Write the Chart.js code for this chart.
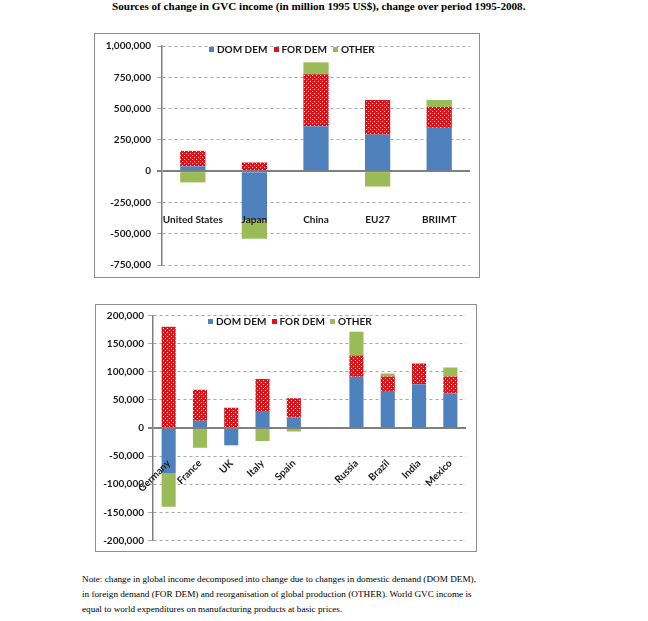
<!DOCTYPE html>
<html>
<head>
<meta charset="utf-8">
<script src="https://cdn.jsdelivr.net/npm/chart.js@4.4.1/dist/chart.umd.min.js"></script>
<style>
  body { margin: 0; background: #fff; }
  #page { position: relative; width: 648px; height: 621px; overflow: hidden; }
  .title { position: absolute; left: 112px; top: 0px; font: bold 11.1px "Liberation Serif"; color: #000; white-space: nowrap; }
  .box { position: absolute; border: 1px solid #8e8e8e; background: #fff; }
  .box canvas { position: absolute; left: 0; top: 0; }
  .lg { position: absolute; display: flex; align-items: center; font: bold 10px Lato; color: #1a1a1a; white-space: nowrap; }
  .lg i { display: inline-block; width: 5px; height: 5px; margin-right: 3px; }
  .note { position: absolute; left: 82px; top: 572px; font: 9.2px "Liberation Serif"; line-height: 15px; color: #000; white-space: nowrap; }
</style>
</head>
<body>
<div id="page">
  <div class="title">Sources of change in GVC income (in million 1995 US$), change over period 1995-2008.</div>

  <div class="box" id="topBox" style="left:94px; top:33px; width:384px; height:243px;">
    <canvas id="topChart"></canvas>
  </div>
  <div class="box" id="bottomBox" style="left:95px; top:304px; width:380px; height:246px;">
    <canvas id="bottomChart"></canvas>
  </div>

  <div class="note">Note: change in global income decomposed into change due to changes in domestic demand (DOM DEM),<br>in foreign demand (FOR DEM) and reorganisation of global production (OTHER). World GVC income is<br>equal to world expenditures on manufacturing products at basic prices.</div>
</div>

<script>
// values in million 1995 US$
const seriesNames = ['DOM DEM', 'FOR DEM', 'OTHER'];

const topCategories = ['United States', 'Japan', 'China', 'EU27', 'BRIIMT'];
const topDomDem = [39000, -391000, 359000, 292000, 346000];
const topForDem = [123000, 69000, 415000, 277000, 167000];
const topOther  = [-90000, -149000, 95000, -123000, 56000];
const topTicks = { min: -750000, max: 1000000, step: 250000 };

const bottomCategories = ['Germany', 'France', 'UK', 'Italy', 'Spain', '', 'Russia', 'Brazil', 'India', 'Mexico'];
const bottomDomDem = [-80000, 13000, -30000, 29000, 19000, null, 91000, 66000, 78000, 62000];
const bottomForDem = [180000, 55000, 36000, 58000, 34000, null, 38000, 25500, 36500, 29500];
const bottomOther  = [-60000, -35000, -1000, -23000, -6000, null, 42000, 5500, 0, 16000];
const bottomTicks = { min: -200000, max: 200000, step: 50000 };

const colors = { dom: '#4f81bd', forRed: '#d9141a', other: '#9bbb59' };

// red fill with white dots, like the Excel pattern
function dotPattern() {
  const c = document.createElement('canvas');
  c.width = 4; c.height = 4;
  const g = c.getContext('2d');
  g.fillStyle = colors.forRed;
  g.fillRect(0, 0, 4, 4);
  g.fillStyle = '#ffffff';
  g.fillRect(1, 1, 1, 1);
  g.fillRect(3, 3, 1, 1);
  return g.createPattern(c, 'repeat');
}

function addLegend(items, top) {
  const page = document.getElementById('page');
  const swatch = [colors.dom, colors.forRed, colors.other];
  items.forEach((left, i) => {
    const d = document.createElement('div');
    d.className = 'lg';
    d.style.left = left + 'px';
    d.style.top = top + 'px';
    d.innerHTML = `<i style="background:${swatch[i]}"></i>${seriesNames[i]}`;
    page.appendChild(d);
  });
}

function makeChart(canvasId, labels, dom, fore, other, ticks, opt) {
  const ctx = document.getElementById(canvasId).getContext('2d');
  const pattern = dotPattern();
  return new Chart(ctx, {
    type: 'bar',
    data: {
      labels: labels,
      datasets: [
        { label: seriesNames[0], data: dom, backgroundColor: colors.dom },
        { label: seriesNames[1], data: fore, backgroundColor: pattern },
        { label: seriesNames[2], data: other, backgroundColor: colors.other }
      ]
    },
    options: {
      responsive: true,
      maintainAspectRatio: false,
      animation: false,
      layout: { padding: opt.padding },
      datasets: { bar: { categoryPercentage: 1, barPercentage: opt.barPct } },
      plugins: { legend: { display: false }, tooltip: { enabled: false } },
      scales: {
        x: {
          stacked: true,
          position: { y: opt.labelAt },
          grid: { display: false, drawTicks: false },
          border: { display: false },
          ticks: {
            z: 1,   // labels sit on top of the bars (Japan, Germany)
            autoSkip: false,
            minRotation: opt.rotation,
            maxRotation: opt.rotation,
            padding: opt.labelPad,
            color: '#1a1a1a',
            font: { family: 'Lato', weight: 'bold', size: 10 }
          }
        },
        y: {
          stacked: true,
          min: ticks.min,
          max: ticks.max,
          afterFit: (s) => { s.width = opt.axisWidth; },
          grid: {
            color: (c) => (c.tick && c.tick.value === 0) ? '#7f7f7f' : '#a6a6a6',
            lineWidth: (c) => (c.tick && c.tick.value === 0) ? 2 : 1,
            tickLength: 5
          },
          border: {
            display: true,
            color: '#7f7f7f',
            width: 1.5,
            dash: (c) => (c.tick && c.tick.value !== 0) ? [3, 3] : []
          },
          ticks: {
            stepSize: ticks.step,
            padding: opt.tickPad,
            color: '#1a1a1a',
            font: { family: 'Lato', weight: 'bold', size: 10 },
            callback: (v) => v.toLocaleString('en-US')
          }
        }
      }
    }
  });
}

makeChart('topChart', topCategories, topDomDem, topForDem, topOther, topTicks, {
  padding: { top: 10, right: 9, bottom: 6, left: 0 },
  axisWidth: 67, tickPad: 6, barPct: 0.41,
  labelAt: -300000, labelPad: 5, rotation: 0
});

makeChart('bottomChart', bottomCategories, bottomDomDem, bottomForDem, bottomOther, bottomTicks, {
  padding: { top: 10.5, right: 10, bottom: 10.5, left: 0 },
  axisWidth: 57, tickPad: 4, barPct: 0.45,
  labelAt: -45000, labelPad: 4, rotation: 45
});

addLegend([209, 273.5, 333], 43);
addLegend([208, 271.5, 330], 315);
</script>
</body>
</html>
